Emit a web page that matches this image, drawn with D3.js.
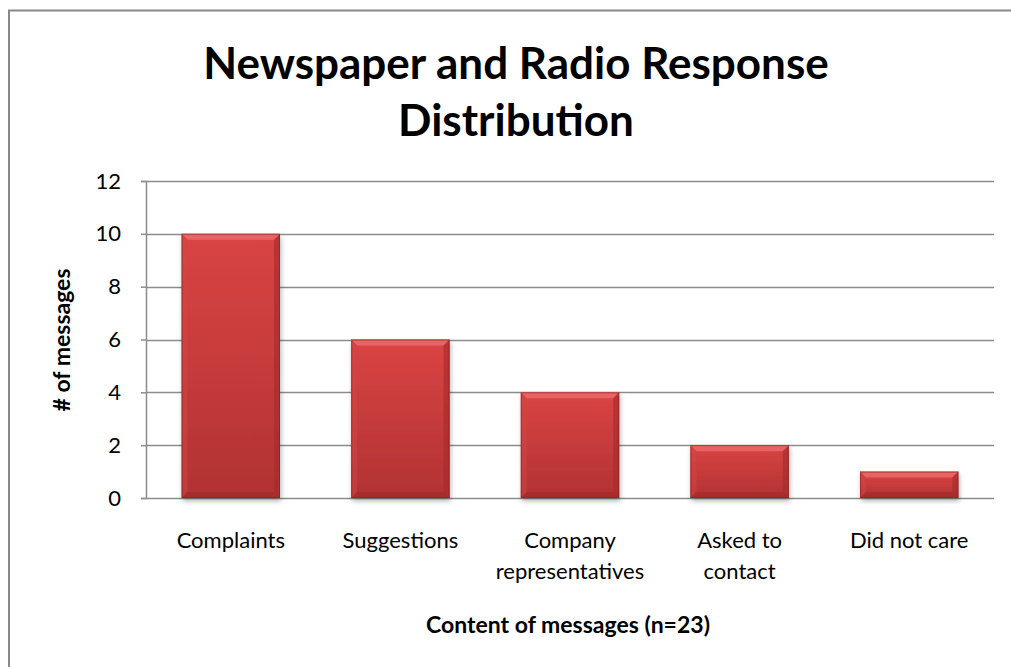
<!DOCTYPE html>
<html>
<head>
<meta charset="utf-8">
<script src="https://cdn.jsdelivr.net/npm/d3@7"></script>
<style>
  body { margin: 0; background: #fff; }
  text { font-family: Lato, "Open Sans", sans-serif; fill: #000; }
</style>
</head>
<body>
<svg id="chart" width="1011" height="667"></svg>
<script>
// data
var categories = ["Complaints", "Suggestions", "Company representatives", "Asked to contact", "Did not care"];
var categoryLines = [["Complaints"], ["Suggestions"], ["Company", "representatives"], ["Asked to", "contact"], ["Did not care"]];
var messages = [10, 6, 4, 2, 1];
var yTicks = [0, 2, 4, 6, 8, 10, 12];

var svg = d3.select("#chart"),
    margin = { top: 181, right: 17, bottom: 169, left: 146 },
    width = 1011 - margin.left - margin.right,
    height = 667 - margin.top - margin.bottom;

// frame
svg.append("path")
    .attr("d", "M9,667 L9,10.5 L1011,10.5")
    .attr("fill", "none")
    .attr("stroke", "#888")
    .attr("stroke-width", 2);

var defs = svg.append("defs");
var grad = defs.append("linearGradient").attr("id", "barGrad")
    .attr("x1", 0).attr("y1", 0).attr("x2", 0).attr("y2", 1);
grad.append("stop").attr("offset", "0%").attr("stop-color", "#da4444");
grad.append("stop").attr("offset", "100%").attr("stop-color", "#b23232");

var shadow = defs.append("filter").attr("id", "shadow")
    .attr("x", "-10%").attr("y", "-10%").attr("width", "130%").attr("height", "130%");
shadow.append("feDropShadow").attr("dx", 1).attr("dy", 3).attr("stdDeviation", 2.5)
    .attr("flood-color", "#000").attr("flood-opacity", 0.3);

var x = d3.scaleBand().domain(categories).range([0, width]).paddingInner(0.42).paddingOuter(0.21);
var y = d3.scaleLinear().domain([0, 12]).range([height, 0]);

var g = svg.append("g").attr("transform", "translate(" + margin.left + "," + margin.top + ")");

// gridlines
g.append("g")
    .selectAll("line")
    .data(yTicks)
    .enter().append("line")
    .attr("x1", 0).attr("x2", width)
    .attr("y1", function (d) { return Math.round(y(d)) + 0.5; })
    .attr("y2", function (d) { return Math.round(y(d)) + 0.5; })
    .attr("stroke", "#8c8c8c")
    .attr("stroke-width", 1.5);

// y axis
var yAxis = g.append("g")
    .call(d3.axisLeft(y).tickValues(yTicks).tickSize(5).tickPadding(20));
yAxis.select(".domain").attr("stroke", "#8c8c8c").attr("stroke-width", 1.5);
yAxis.selectAll(".tick line").attr("stroke", "#8c8c8c").attr("stroke-width", 1.5);
yAxis.selectAll(".tick text").style("font-size", "22px").style("font-family", "Lato, sans-serif");

// bars
var bars = g.selectAll(".bar")
    .data(messages)
    .enter().append("g")
    .attr("class", "bar");

bars.append("rect")
    .attr("x", function (d, i) { return x(categories[i]); })
    .attr("y", function (d) { return y(d); })
    .attr("width", x.bandwidth())
    .attr("height", function (d) { return height - y(d); })
    .attr("fill", "url(#barGrad)")
    .attr("filter", "url(#shadow)");

// bevel edges
var bev = 6;
function bevel(d, i, side) {
    var x0 = x(categories[i]), x1 = x0 + x.bandwidth(), y0 = y(d), y1 = height;
    if (side === "top") return [[x0, y0], [x1, y0], [x1 - bev, y0 + bev], [x0 + bev, y0 + bev]];
    if (side === "bottom") return [[x0, y1], [x1, y1], [x1 - bev, y1 - bev], [x0 + bev, y1 - bev]];
    if (side === "left") return [[x0, y0], [x0 + bev, y0 + bev], [x0 + bev, y1 - bev], [x0, y1]];
    return [[x1, y0], [x1 - bev, y0 + bev], [x1 - bev, y1 - bev], [x1, y1]];
}
var bevelFill = { top: "#f07272", left: "#d04646", right: "#a42c2c", bottom: "#9a2828" };
var bevelOpacity = { top: 0.7, left: 0.5, right: 0.6, bottom: 0.5 };
["top", "left", "right", "bottom"].forEach(function (side) {
    bars.append("polygon")
        .attr("points", function (d, i) { return bevel(d, i, side).map(function (p) { return p.join(","); }).join(" "); })
        .attr("fill", bevelFill[side])
        .attr("opacity", bevelOpacity[side]);
});
bars.append("rect")
    .attr("x", function (d, i) { return x(categories[i]) + 0.5; })
    .attr("y", function (d) { return y(d) + 0.5; })
    .attr("width", x.bandwidth() - 1)
    .attr("height", function (d) { return height - y(d) - 1; })
    .attr("fill", "none")
    .attr("stroke", "#8a1e1e")
    .attr("stroke-opacity", 0.6);

// category labels
var labels = g.selectAll(".cat")
    .data(categoryLines)
    .enter().append("text")
    .attr("class", "cat")
    .attr("text-anchor", "middle")
    .attr("x", function (d, i) { return x(categories[i]) + x.bandwidth() / 2; })
    .attr("y", height + 50)
    .style("font-size", "22px");
labels.selectAll("tspan")
    .data(function (d) { return d; })
    .enter().append("tspan")
    .attr("x", function () { return d3.select(this.parentNode).attr("x"); })
    .attr("dy", function (d, j) { return j === 0 ? 0 : 31; })
    .text(function (d) { return d; });

// axis titles
svg.append("text")
    .attr("x", 568).attr("y", 633)
    .attr("text-anchor", "middle")
    .style("font-size", "23px").style("font-weight", "bold")
    .text("Content of messages (n=23)");

svg.append("text")
    .attr("transform", "translate(70,340) rotate(-90)")
    .attr("text-anchor", "middle")
    .style("font-size", "23px").style("font-weight", "bold")
    .text("# of messages");

// title
var title = svg.append("text")
    .attr("text-anchor", "middle")
    .style("font-size", "44px").style("font-weight", "bold");
title.append("tspan").attr("x", 516).attr("y", 79).text("Newspaper and Radio Response");
title.append("tspan").attr("x", 516).attr("y", 136).text("Distribution");
</script>
</body>
</html>
